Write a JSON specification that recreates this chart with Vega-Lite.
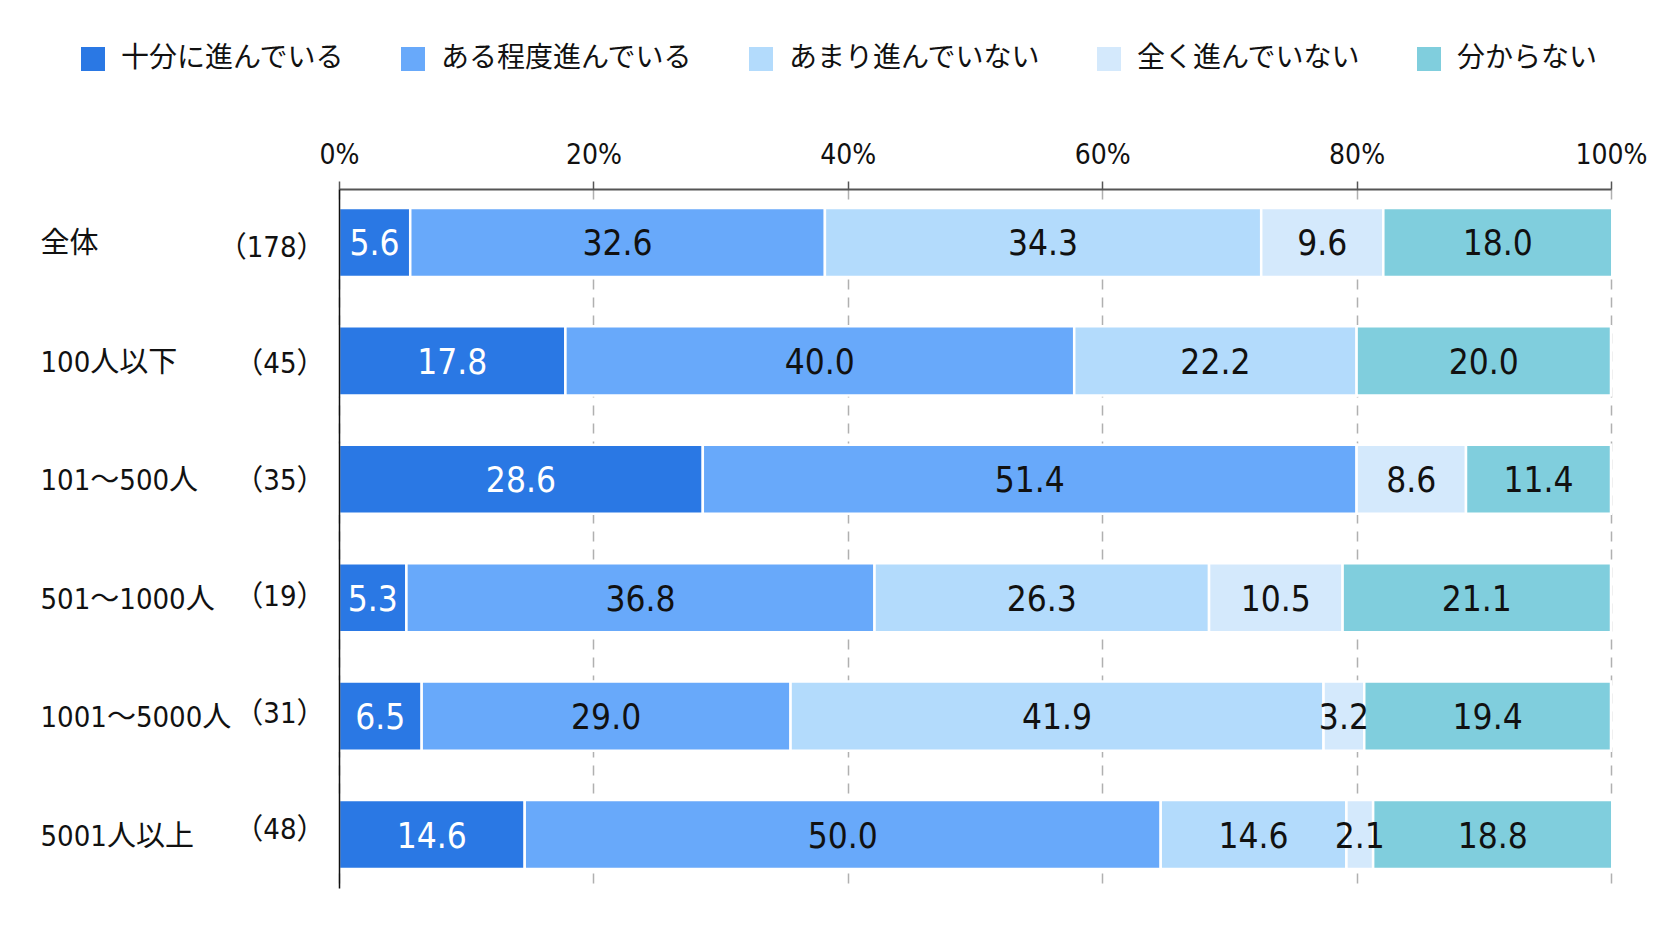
{
  "$schema": "https://vega.github.io/schema/vega-lite/v6.json",
  "width": 1272,
  "height": 699,
  "autosize": {"type": "none"},
  "padding": {"left": 339, "top": 189, "right": 61, "bottom": 53},
  "background": "white",
  "config": {
    "view": {"stroke": null},
    "font": "Noto Sans CJK JP"
  },
  "data": {
    "values": [
      {"group": "全体", "n": "（178）", "cat": "十分に進んでいる", "order": 1, "value": 5.6},
      {"group": "全体", "n": "（178）", "cat": "ある程度進んでいる", "order": 2, "value": 32.6},
      {"group": "全体", "n": "（178）", "cat": "あまり進んでいない", "order": 3, "value": 34.3},
      {"group": "全体", "n": "（178）", "cat": "全く進んでいない", "order": 4, "value": 9.6},
      {"group": "全体", "n": "（178）", "cat": "分からない", "order": 5, "value": 18.0},
      {"group": "100人以下", "n": "（45）", "cat": "十分に進んでいる", "order": 1, "value": 17.8},
      {"group": "100人以下", "n": "（45）", "cat": "ある程度進んでいる", "order": 2, "value": 40.0},
      {"group": "100人以下", "n": "（45）", "cat": "あまり進んでいない", "order": 3, "value": 22.2},
      {"group": "100人以下", "n": "（45）", "cat": "分からない", "order": 5, "value": 20.0},
      {"group": "101～500人", "n": "（35）", "cat": "十分に進んでいる", "order": 1, "value": 28.6},
      {"group": "101～500人", "n": "（35）", "cat": "ある程度進んでいる", "order": 2, "value": 51.4},
      {"group": "101～500人", "n": "（35）", "cat": "全く進んでいない", "order": 4, "value": 8.6},
      {"group": "101～500人", "n": "（35）", "cat": "分からない", "order": 5, "value": 11.4},
      {"group": "501～1000人", "n": "（19）", "cat": "十分に進んでいる", "order": 1, "value": 5.3},
      {"group": "501～1000人", "n": "（19）", "cat": "ある程度進んでいる", "order": 2, "value": 36.8},
      {"group": "501～1000人", "n": "（19）", "cat": "あまり進んでいない", "order": 3, "value": 26.3},
      {"group": "501～1000人", "n": "（19）", "cat": "全く進んでいない", "order": 4, "value": 10.5},
      {"group": "501～1000人", "n": "（19）", "cat": "分からない", "order": 5, "value": 21.1},
      {"group": "1001～5000人", "n": "（31）", "cat": "十分に進んでいる", "order": 1, "value": 6.5},
      {"group": "1001～5000人", "n": "（31）", "cat": "ある程度進んでいる", "order": 2, "value": 29.0},
      {"group": "1001～5000人", "n": "（31）", "cat": "あまり進んでいない", "order": 3, "value": 41.9},
      {"group": "1001～5000人", "n": "（31）", "cat": "全く進んでいない", "order": 4, "value": 3.2},
      {"group": "1001～5000人", "n": "（31）", "cat": "分からない", "order": 5, "value": 19.4},
      {"group": "5001人以上", "n": "（48）", "cat": "十分に進んでいる", "order": 1, "value": 14.6},
      {"group": "5001人以上", "n": "（48）", "cat": "ある程度進んでいる", "order": 2, "value": 50.0},
      {"group": "5001人以上", "n": "（48）", "cat": "あまり進んでいない", "order": 3, "value": 14.6},
      {"group": "5001人以上", "n": "（48）", "cat": "全く進んでいない", "order": 4, "value": 2.1},
      {"group": "5001人以上", "n": "（48）", "cat": "分からない", "order": 5, "value": 18.8}
    ]
  },
  "layer": [
    {
      "transform": [
        {"stack": "value", "groupby": ["group"], "sort": [{"field": "order"}], "as": ["v0", "v1"]},
        {"calculate": "(datum.v0 + datum.v1) / 2", "as": "mid"}
      ],
      "layer": [
        {
          "mark": {"type": "bar", "stroke": "white", "strokeWidth": 2.5},
          "encoding": {
            "y": {
              "field": "group",
              "type": "nominal",
              "sort": ["全体", "100人以下", "101～500人", "501～1000人", "1001～5000人", "5001人以上"],
              "scale": {"paddingInner": 0.417, "paddingOuter": 0.16},
              "axis": {
                "title": null,
                "ticks": false,
                "zindex": 1,
                "domainColor": "#111111",
                "domainWidth": 1.5,
                "labelAlign": "left",
                "labelPadding": 299,
                "labelLimit": 400,
                "labelOffset": 2,
                "labelFont": "DejaVu Sans Condensed, Noto Sans CJK JP",
                "labelFontSize": 29,
                "labelColor": "#111111"
              }
            },
            "x": {
              "field": "v0",
              "type": "quantitative",
              "scale": {"domain": [0, 100], "nice": false},
              "axis": {
                "orient": "top",
                "title": null,
                "values": [0, 20, 40, 60, 80, 100],
                "labelExpr": "datum.value + '%'",
                "labelFont": "DejaVu Sans Condensed, Noto Sans CJK JP",
                "labelFontSize": 28,
                "labelColor": "#111111",
                "labelPadding": 12,
                "labelFlush": false,
                "domainColor": "#555555",
                "domainWidth": 2,
                "tickColor": "#555555",
                "tickSize": 8,
                "tickWidth": 1.5,
                "grid": true,
                "gridColor": "#b0b0b0",
                "gridWidth": 1.5,
                "gridDash": [10, 8]
              }
            },
            "x2": {"field": "v1"},
            "color": {
              "field": "cat",
              "type": "nominal",
              "scale": {
                "domain": ["十分に進んでいる", "ある程度進んでいる", "あまり進んでいない", "全く進んでいない", "分からない"],
                "range": ["#2a78e4", "#68a9fa", "#b3dbfc", "#d4e9fc", "#80cedd"]
              },
              "legend": {
                "title": null,
                "orient": "none",
                "direction": "horizontal",
                "legendX": -260,
                "legendY": -144,
                "padding": 0,
                "symbolType": "square",
                "symbolSize": 576,
                "symbolStrokeWidth": 0,
                "symbolOpacity": 1,
                "labelFont": "Noto Sans CJK JP",
                "labelFontSize": 28,
                "labelColor": "#111111",
                "labelOffset": 14,
                "labelLimit": 400,
                "columnPadding": 53
              }
            }
          }
        },
        {
          "mark": {"type": "text", "font": "DejaVu Sans Condensed, Noto Sans CJK JP", "fontSize": 35, "baseline": "middle", "dy": 2},
          "encoding": {
            "y": {
              "field": "group",
              "type": "nominal",
              "sort": ["全体", "100人以下", "101～500人", "501～1000人", "1001～5000人", "5001人以上"]
            },
            "x": {"field": "mid", "type": "quantitative"},
            "text": {"field": "value", "type": "quantitative", "format": ".1f"},
            "color": {
              "condition": {"test": "datum.order === 1", "value": "white"},
              "value": "#111111"
            }
          }
        }
      ]
    },
    {
      "mark": {"type": "point", "opacity": 0},
      "encoding": {
        "y": {
          "field": "n",
          "type": "nominal",
          "sort": ["（178）", "（45）", "（35）", "（19）", "（31）", "（48）"],
          "scale": {"paddingInner": 0.417, "paddingOuter": 0.16},
          "axis": {
            "orient": "left",
            "title": null,
            "ticks": false,
            "domain": false,
            "labelAlign": "right",
            "labelPadding": 14,
            "labelFont": "DejaVu Sans Condensed, Noto Sans CJK JP",
            "labelFontSize": 29,
            "labelColor": "#111111"
          }
        }
      }
    }
  ],
  "resolve": {"scale": {"y": "independent"}, "axis": {"y": "independent"}}
}
